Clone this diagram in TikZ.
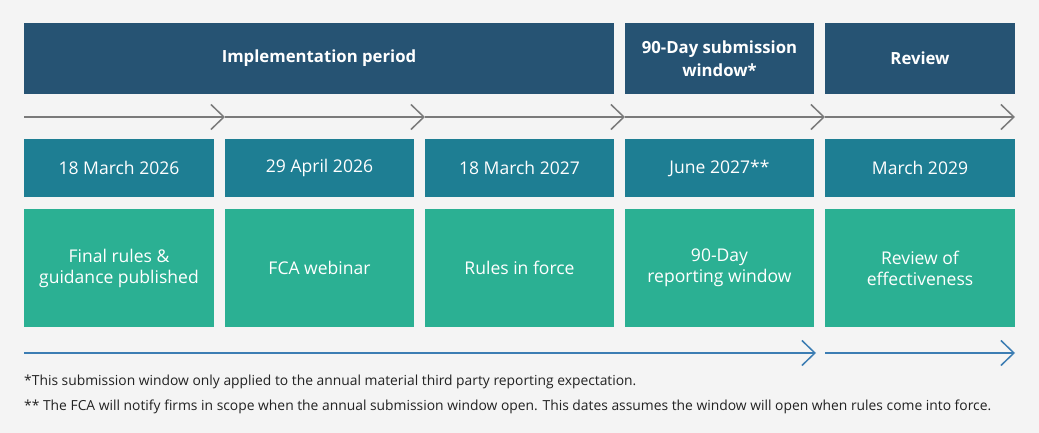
\documentclass[tikz,border=0pt]{standalone}
\usepackage{fontspec}
\setmainfont{Open Sans}
\usetikzlibrary{arrows.meta}
\definecolor{bg}{HTML}{F4F4F4}
\definecolor{topc}{HTML}{265373}
\definecolor{datec}{HTML}{1E7E93}
\definecolor{greenc}{HTML}{2BB093}
\definecolor{grayl}{HTML}{7A7A7A}
\definecolor{bluel}{HTML}{3C7DB3}
\definecolor{txt}{HTML}{222222}
\begin{document}
\begin{tikzpicture}[x=1bp,y=-1bp,
  box/.style={inner sep=0pt,outer sep=0pt,text=white,align=center,font=\fontsize{17.6}{21}\selectfont},
  topbox/.style={box,fill=topc,minimum height=71bp,font=\fontsize{16.8}{23}\selectfont\bfseries},
  datebox/.style={box,fill=datec,minimum height=58bp},
  greenbox/.style={box,fill=greenc,minimum height=118bp},
  grayarrow/.style={draw=grayl,line width=1.5bp,-{Straight Barb[length=13bp,width=25bp,line width=1.5bp]}},
  bluearrow/.style={draw=bluel,line width=1.5bp,-{Straight Barb[length=13bp,width=25bp,line width=1.5bp]}},
  note/.style={anchor=west,inner sep=0pt,text=txt,font=\fontsize{13.9}{16}\selectfont}]
\fill[bg] (0,0) rectangle (1039,433);
\useasboundingbox (0,0) rectangle (1039,433);
% top boxes
\node[topbox,minimum width=590bp] (impl) at (319,58.5) {Implementation period};
\node[topbox,minimum width=189bp] (sub) at (719.5,58.5) {90-Day submission\\window*};
\node[topbox,minimum width=190bp] (rev) at (920,58.5) {Review};
% gray timeline
\coordinate (g0) at (24,117);
\coordinate (g1) at (225,117);
\coordinate (g2) at (425,117);
\coordinate (g3) at (625,117);
\coordinate (g4) at (825,117);
\coordinate (g5) at (1015,117);
\draw[grayarrow] (g0) -- (g1);
\draw[grayarrow] (g1) -- (g2);
\draw[grayarrow] (g2) -- (g3);
\draw[grayarrow] (g3) -- (g4);
\draw[grayarrow] (g4) -- (g5);
% dates
\node[datebox,minimum width=190bp] (d1) at (119,168) {18 March 2026};
\node[datebox,minimum width=189bp] (d2) at (319.5,168) {29 April 2026};
\node[datebox,minimum width=189bp] (d3) at (519.5,168) {18 March 2027};
\node[datebox,minimum width=189bp] (d4) at (719.5,168) {June 2027**};
\node[datebox,minimum width=190bp] (d5) at (920,168) {March 2029};
% green
\node[greenbox,minimum width=190bp] (e1) at (119,268) {Final rules \&\\guidance published};
\node[greenbox,minimum width=189bp] (e2) at (319.5,268) {FCA webinar};
\node[greenbox,minimum width=189bp] (e3) at (519.5,268) {Rules in force};
\node[greenbox,minimum width=189bp] (e4) at (719.5,268) {90-Day\\reporting window};
\node[greenbox,minimum width=190bp] (e5) at (920,268) {Review of\\effectiveness};
% blue arrows
\coordinate (b0) at (24,353);
\coordinate (b1) at (816,353);
\coordinate (b2) at (825,353);
\coordinate (b3) at (1015,353);
\draw[bluearrow] (b0) -- (b1);
\draw[bluearrow] (b2) -- (b3);
% notes
\node[note] (n1) at (24,382) {*This submission window only applied to the annual material third party reporting expectation.};
\node[note] (n2) at (24,407) {** The FCA will notify firms in scope when the annual submission window open. This dates assumes the window will open when rules come into force.};
\end{tikzpicture}
\end{document}
